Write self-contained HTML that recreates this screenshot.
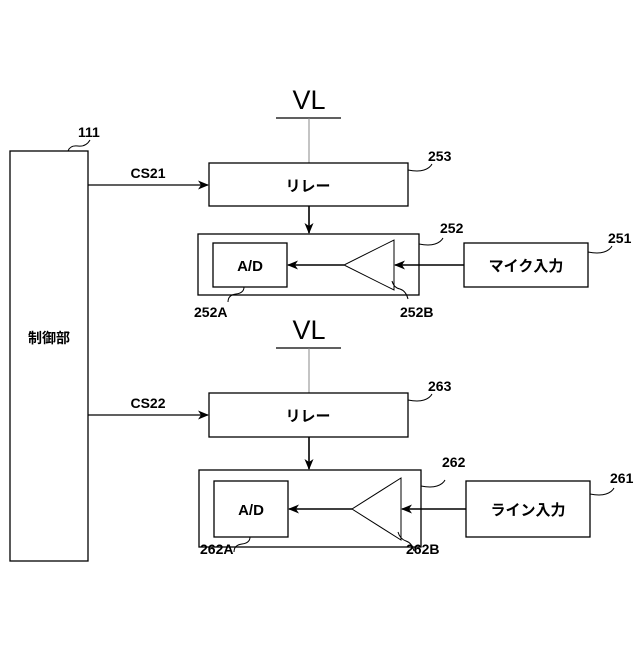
<!DOCTYPE html>
<html><head><meta charset="utf-8"><style>html,body{margin:0;padding:0;background:#fff}</style></head><body>
<svg width="640" height="640" viewBox="0 0 640 640" xmlns="http://www.w3.org/2000/svg" font-family="Liberation Sans, Noto Sans CJK JP, sans-serif" fill="none" stroke="#000" stroke-width="1.3">
<defs><marker id="a" markerWidth="11" markerHeight="9" refX="10" refY="4.5" orient="auto" markerUnits="userSpaceOnUse"><path d="M0,0 L11,4.5 L0,9 L3,4.5 Z" fill="#000" stroke="none"/></marker></defs>
<rect x="10" y="151" width="78" height="410"/>
<path d="M68,151 q2,-6 10,-5 q8,1 12,-6" stroke-width="1"/>
<text x="78" y="137" font-size="14" font-weight="bold" fill="#000" stroke="none">111</text>
<text x="49" y="343" font-size="14" font-weight="bold" fill="#000" stroke="none" text-anchor="middle">制御部</text>

<text x="309" y="109" font-size="27" fill="#000" stroke="none" text-anchor="middle">VL</text>
<line x1="276" y1="118" x2="341" y2="118"/>
<line x1="309" y1="118" x2="309" y2="163" stroke="#888" stroke-width="1"/>
<line x1="88" y1="185" x2="208" y2="185" marker-end="url(#a)"/>
<text x="148" y="178" font-size="14" font-weight="bold" fill="#000" stroke="none" text-anchor="middle">CS21</text>
<rect x="209" y="163" width="199" height="43"/>
<text x="308" y="191" font-size="15" font-weight="bold" fill="#000" stroke="none" text-anchor="middle">リレー</text>
<path d="M408,170 q10,2 16,0 q6,-2 8,-6" stroke-width="1"/>
<text x="428" y="161" font-size="14" font-weight="bold" fill="#000" stroke="none">253</text>
<line x1="309" y1="206" x2="309" y2="233" stroke-width="1.6" marker-end="url(#a)"/>
<rect x="198" y="234" width="221" height="61"/>
<path d="M419,244 q10,2 16,0 q6,-2 8,-6" stroke-width="1"/>
<text x="440" y="233" font-size="14" font-weight="bold" fill="#000" stroke="none">252</text>
<rect x="213" y="243" width="74" height="44"/>
<text x="250" y="271" font-size="15" font-weight="bold" fill="#000" stroke="none" text-anchor="middle">A/D</text>
<path d="M394,240 L394,290 L344,265 Z" stroke-width="1"/>
<line x1="344" y1="265" x2="288" y2="265" stroke-width="1.6" marker-end="url(#a)"/>
<line x1="464" y1="265" x2="395" y2="265" stroke-width="1.6" marker-end="url(#a)"/>
<rect x="464" y="243" width="124" height="44"/>
<text x="526" y="271" font-size="15" font-weight="bold" fill="#000" stroke="none" text-anchor="middle">マイク入力</text>
<path d="M588,252 q10,2 16,0 q6,-2 8,-6" stroke-width="1"/>
<text x="608" y="243" font-size="14" font-weight="bold" fill="#000" stroke="none">251</text>
<path d="M244,287 q0,6 -8,7 q-8,1 -8,8" stroke-width="1"/>
<text x="194" y="317" font-size="14" font-weight="bold" fill="#000" stroke="none">252A</text>
<path d="M392,281 q2,7 8,8 q6,2 8,10" stroke-width="1"/>
<text x="400" y="317" font-size="14" font-weight="bold" fill="#000" stroke="none">252B</text>

<text x="309" y="339" font-size="27" fill="#000" stroke="none" text-anchor="middle">VL</text>
<line x1="276" y1="348" x2="341" y2="348"/>
<line x1="309" y1="348" x2="309" y2="393" stroke="#888" stroke-width="1"/>
<line x1="88" y1="415" x2="208" y2="415" marker-end="url(#a)"/>
<text x="148" y="408" font-size="14" font-weight="bold" fill="#000" stroke="none" text-anchor="middle">CS22</text>
<rect x="209" y="393" width="199" height="44"/>
<text x="308" y="421" font-size="15" font-weight="bold" fill="#000" stroke="none" text-anchor="middle">リレー</text>
<path d="M408,400 q10,2 16,0 q6,-2 8,-6" stroke-width="1"/>
<text x="428" y="391" font-size="14" font-weight="bold" fill="#000" stroke="none">263</text>
<line x1="309" y1="437" x2="309" y2="469" stroke-width="1.6" marker-end="url(#a)"/>
<rect x="199" y="470" width="222" height="77"/>
<path d="M421,486 q10,2 16,0 q6,-2 8,-6" stroke-width="1"/>
<text x="442" y="467" font-size="14" font-weight="bold" fill="#000" stroke="none">262</text>
<rect x="214" y="481" width="74" height="56"/>
<text x="251" y="515" font-size="15" font-weight="bold" fill="#000" stroke="none" text-anchor="middle">A/D</text>
<path d="M401,478 L401,540 L352,509 Z" stroke-width="1"/>
<line x1="352" y1="509" x2="289" y2="509" stroke-width="1.6" marker-end="url(#a)"/>
<line x1="466" y1="509" x2="402" y2="509" stroke-width="1.6" marker-end="url(#a)"/>
<rect x="466" y="481" width="124" height="56"/>
<text x="528" y="515" font-size="15" font-weight="bold" fill="#000" stroke="none" text-anchor="middle">ライン入力</text>
<path d="M590,494 q10,2 16,0 q6,-2 8,-6" stroke-width="1"/>
<text x="610" y="483" font-size="14" font-weight="bold" fill="#000" stroke="none">261</text>
<path d="M250,537 q0,6 -8,7 q-8,1 -8,8" stroke-width="1"/>
<text x="200" y="554" font-size="14" font-weight="bold" fill="#000" stroke="none">262A</text>
<path d="M398,532 q2,7 8,9 q6,2 8,10" stroke-width="1"/>
<text x="406" y="554" font-size="14" font-weight="bold" fill="#000" stroke="none">262B</text>
</svg>
</body></html>
